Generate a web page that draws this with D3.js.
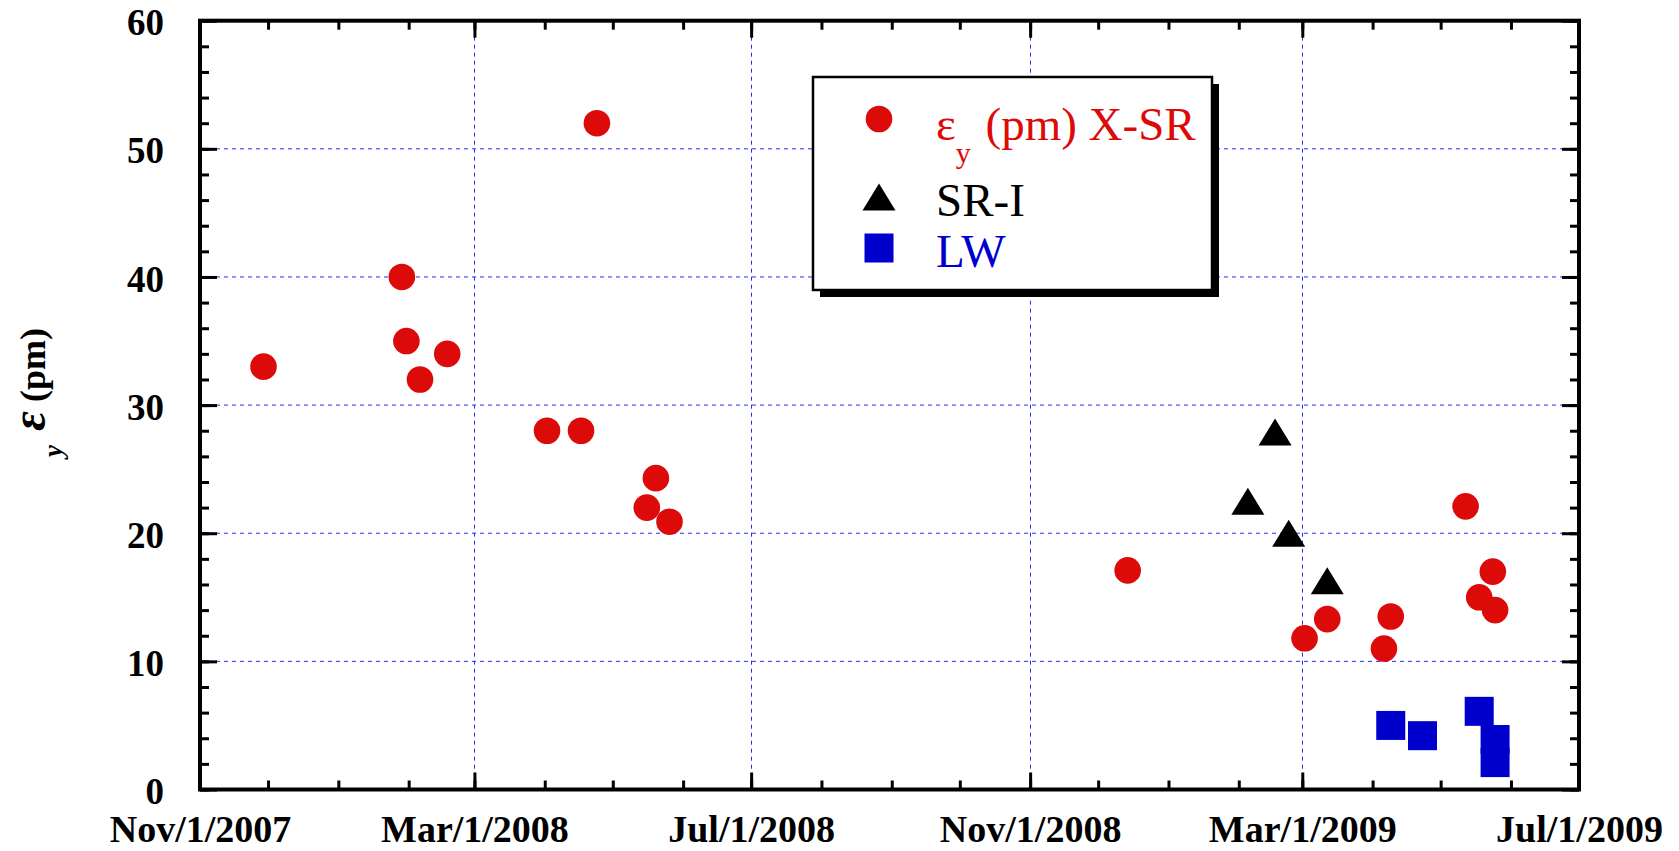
<!DOCTYPE html>
<html><head><meta charset="utf-8">
<script src="https://cdn.jsdelivr.net/npm/d3@7"></script>
<style>body{margin:0;background:#fff}svg{display:block}</style>
</head><body>
<svg id="c" width="1679" height="851"></svg>
<script>
// ---- data ----
const xsrDates = ["2007-11-29","2008-01-29","2008-01-31","2008-02-06","2008-02-18","2008-04-02","2008-04-17","2008-04-24","2008-05-16","2008-05-20","2008-05-26","2008-12-14","2009-03-02","2009-03-12","2009-04-06","2009-04-09","2009-05-12","2009-05-18","2009-05-24","2009-05-25"];
const xsrValues = [33.0,40.0,35.0,32.0,34.0,28.0,28.0,52.0,22.0,24.3,20.9,17.1,11.8,13.3,11.0,13.5,22.1,15.0,17.0,14.0];
const sriDates = ["2009-02-05","2009-02-17","2009-02-23","2009-03-12"];
const sriValues = [22.5,27.9,20.0,16.3];
const lwDates = ["2009-04-09","2009-04-23","2009-05-18","2009-05-25","2009-05-25"];
const lwValues = [5.0,4.2,6.1,3.9,2.1];
const xTickDates = ["2007-11-01","2008-03-01","2008-07-01","2008-11-01","2009-03-01","2009-07-01"];
const xTickLabels = ["Nov/1/2007","Mar/1/2008","Jul/1/2008","Nov/1/2008","Mar/1/2009","Jul/1/2009"];
const yTicks = [0,10,20,30,40,50,60];
const legendNames = ["(pm) X-SR","SR-I","LW"];

// ---- setup ----
const RED = "#dd0a0a", BLUE = "#0000cc", GRID = "#2a2aff";
const SERIF = "'Liberation Serif','Times New Roman',Times,serif";
const parse = d3.utcParse("%Y-%m-%d");
const svg = d3.select("#c");
const L = 200, R = 1579, T = 20.7, B = 789.5;
const x = d3.scaleUtc().domain([parse(xTickDates[0]), parse(xTickDates[xTickDates.length-1])]).range([L, R]);
const y = d3.scaleLinear().domain([0, 60]).range([B, T]);

svg.append("rect").attr("width",1679).attr("height",851).attr("fill","#fff");

// ---- grid ----
const grid = svg.append("g").attr("stroke", GRID).attr("stroke-width", 1).attr("stroke-dasharray", "4,4");
grid.selectAll("line.h").data(yTicks.filter(v => v > 0 && v < 60)).join("line")
  .attr("x1", L).attr("x2", R).attr("y1", d => y(d)).attr("y2", d => y(d));
grid.selectAll("line.v").data(xTickDates.slice(1, -1).map(parse)).join("line")
  .attr("x1", d => Math.round(x(d)) + 0.5).attr("x2", d => Math.round(x(d)) + 0.5).attr("y1", T).attr("y2", B);

// ---- markers ----
const xsr = xsrDates.map((d, i) => ({d: parse(d), v: xsrValues[i]}));
const sri = sriDates.map((d, i) => ({d: parse(d), v: sriValues[i]}));
const lw = lwDates.map((d, i) => ({d: parse(d), v: lwValues[i]}));
const triPath = "M0,-13.5L16.5,13.5L-16.5,13.5Z";
const SQ = 29;

svg.append("g").selectAll("circle").data(xsr).join("circle")
  .attr("cx", p => x(p.d)).attr("cy", p => y(p.v)).attr("r", 13.3).attr("fill", RED);
svg.append("g").selectAll("path").data(sri).join("path")
  .attr("d", triPath).attr("transform", p => `translate(${x(p.d)},${y(p.v)})`).attr("fill", "#000");
svg.append("g").selectAll("rect").data(lw).join("rect")
  .attr("x", p => x(p.d) - SQ/2).attr("y", p => y(p.v) - SQ/2).attr("width", SQ).attr("height", SQ).attr("fill", BLUE);

// ---- legend ----
const lg = svg.append("g");
lg.append("rect").attr("x", 820).attr("y", 84).attr("width", 399).attr("height", 213).attr("fill", "#000");
lg.append("rect").attr("x", 813).attr("y", 77).attr("width", 399).attr("height", 213).attr("fill", "#fff").attr("stroke", "#000").attr("stroke-width", 2.5);
lg.append("circle").attr("cx", 879).attr("cy", 119).attr("r", 13.3).attr("fill", RED);
lg.append("path").attr("d", triPath).attr("transform", "translate(879,197)").attr("fill", "#000");
lg.append("rect").attr("x", 879 - SQ/2).attr("y", 248 - SQ/2).attr("width", SQ).attr("height", SQ).attr("fill", BLUE);
const t1 = lg.append("text").attr("x", 936).attr("y", 140).attr("font-family", SERIF).attr("font-size", 47).attr("fill", RED);
t1.append("tspan").text("ε");
t1.append("tspan").attr("font-size", 30).attr("dy", 23).text("y");
t1.append("tspan").attr("dy", -23).attr("dx", 3).text(" " + legendNames[0]);
lg.append("text").attr("x", 936).attr("y", 216).attr("font-family", SERIF).attr("font-size", 47).attr("fill", "#000").text(legendNames[1]);
lg.append("text").attr("x", 936).attr("y", 267).attr("font-family", SERIF).attr("font-size", 47).attr("fill", BLUE).text(legendNames[2]);

// ---- axes (ticks inward on all four sides) ----
const x0 = x.domain()[0], x1 = x.domain()[1];
const months = d3.utcMonth.range(x0, d3.utcDay.offset(x1, 1));
const majors = xTickDates.map(parse);
const minorY = d3.range(0, 61, 2);
function styleAxis(g) {
  g.select(".domain").remove();
  g.selectAll(".tick line").attr("stroke", "#000").attr("stroke-width", 3);
  g.selectAll("text").attr("font-family", SERIF).attr("font-weight", "bold").attr("fill", "#000");
}
svg.append("g").attr("transform", `translate(0,${B})`).call(d3.axisBottom(x).tickValues(months).tickSize(-9).tickFormat("")).call(styleAxis);
svg.append("g").attr("transform", `translate(0,${T})`).call(d3.axisTop(x).tickValues(months).tickSize(-9).tickFormat("")).call(styleAxis);
svg.append("g").attr("transform", `translate(0,${T})`).call(d3.axisTop(x).tickValues(majors).tickSize(-17).tickFormat("")).call(styleAxis);
svg.append("g").attr("transform", `translate(0,${B})`)
  .call(d3.axisBottom(x).tickValues(majors).tickSize(-17).tickPadding(26).tickFormat((d, i) => xTickLabels[i]))
  .call(styleAxis).call(g => g.selectAll("text").attr("font-size", 38));
svg.append("g").attr("transform", `translate(${L},0)`).call(d3.axisLeft(y).tickValues(minorY).tickSize(-9).tickFormat("")).call(styleAxis);
svg.append("g").attr("transform", `translate(${R},0)`).call(d3.axisRight(y).tickValues(minorY).tickSize(-9).tickFormat("")).call(styleAxis);
svg.append("g").attr("transform", `translate(${R},0)`).call(d3.axisRight(y).tickValues(yTicks).tickSize(-17).tickFormat("")).call(styleAxis);
svg.append("g").attr("transform", `translate(${L},0)`)
  .call(d3.axisLeft(y).tickValues(yTicks).tickSize(-17).tickPadding(36).tickFormat(d3.format("d")))
  .call(styleAxis).call(g => g.selectAll("text").attr("font-size", 37).attr("dy", "0.38em"));

// frame
svg.append("rect").attr("x", L).attr("y", T).attr("width", R - L).attr("height", B - T)
  .attr("fill", "none").attr("stroke", "#000").attr("stroke-width", 4);

// ---- y-axis title ----
const yt = svg.append("g").attr("transform", "translate(45,394) rotate(-90)")
  .attr("font-family", SERIF).attr("font-weight", "bold").attr("fill", "#000");
yt.append("text").attr("x", -57).attr("y", 17).attr("text-anchor", "middle").attr("font-size", 27).attr("font-style", "italic").text("y");
yt.append("text").attr("x", -27).attr("y", 0).attr("text-anchor", "middle").attr("font-size", 48).attr("font-style", "italic").text("ε");
yt.append("text").attr("x", -8).attr("y", 0).attr("text-anchor", "start").attr("font-size", 36).text("(pm)");
</script>
</body></html>
